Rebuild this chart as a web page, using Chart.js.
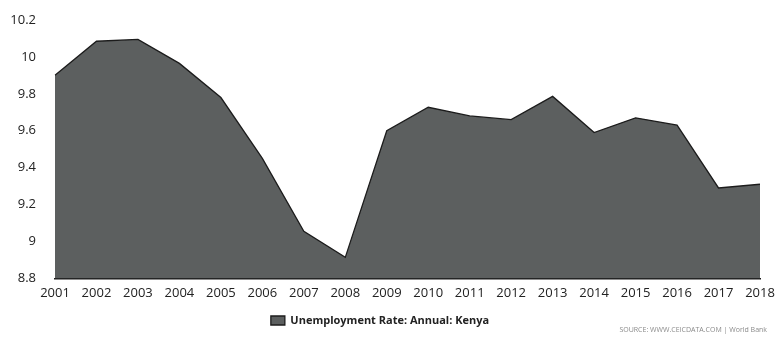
<!DOCTYPE html>
<html>
<head>
<meta charset="utf-8">
<script src="https://cdn.jsdelivr.net/npm/chart.js@4"></script>
<style>
  html, body { margin: 0; padding: 0; background: #fff; }
  #wrap { width: 776px; height: 338px; position: relative; }
</style>
</head>
<body>
<div id="wrap"><canvas id="areaChart"></canvas></div>
<script>
const years = ['2001', '2002', '2003', '2004', '2005', '2006', '2007', '2008', '2009',
    '2010', '2011', '2012', '2013', '2014', '2015', '2016', '2017', '2018'];
const unemployment = [9.9, 10.085, 10.095, 9.965, 9.78, 9.45, 9.055, 8.914, 9.6,
    9.727, 9.68, 9.66, 9.786, 9.59, 9.67, 9.63, 9.29, 9.31];
const yTicks = [8.8, 9, 9.2, 9.4, 9.6, 9.8, 10, 10.2];
const seriesName = 'Unemployment Rate: Annual: Kenya';
const sourceText = 'SOURCE: WWW.CEICDATA.COM | World Bank';

document.addEventListener('DOMContentLoaded', function () {
    const sourceLabel = {
        id: 'sourceLabel',
        afterDraw(chart) {
            const ctx = chart.ctx;
            ctx.save();
            ctx.font = '7px "Open Sans"';
            ctx.fillStyle = '#8a8a8a';
            ctx.textAlign = 'right';
            ctx.textBaseline = 'middle';
            ctx.fillText(sourceText, 767, 330);
            ctx.restore();
        }
    };

    const ctx = document.getElementById('areaChart').getContext('2d');
    new Chart(ctx, {
        type: 'line',
        data: {
            labels: years,
            datasets: [{
                label: seriesName,
                data: unemployment,
                fill: 'start',
                backgroundColor: '#5c5f5f',
                borderColor: '#1c1c1c',
                borderWidth: 1.3,
                pointRadius: 0,
                tension: 0
            }]
        },
        options: {
            responsive: true,
            maintainAspectRatio: false,
            animation: false,
            layout: { padding: { left: 0, right: 16, top: 20, bottom: 2 } },
            scales: {
                x: {
                    offset: false,
                    // grid hidden, tick length kept only as a gap for the labels
                    grid: { display: false, drawTicks: true, tickLength: 7 },
                    border: { display: true, color: '#1c1c1c', width: 1.5 },
                    afterFit(scale) { scale.height += 4; },
                    ticks: {
                        color: '#222',
                        font: { family: 'Open Sans', size: 13 },
                        padding: 0,
                        maxRotation: 0,
                        autoSkip: false
                    }
                },
                y: {
                    min: 8.8,
                    max: 10.2,
                    grid: { display: false, drawTicks: true, tickLength: 19 },
                    border: { display: false },
                    afterFit(scale) { scale.width = 55; },
                    afterBuildTicks(scale) {
                        scale.ticks = yTicks.map(v => ({ value: v }));
                    },
                    ticks: {
                        color: '#222',
                        font: { family: 'Open Sans', size: 13 },
                        padding: 0,
                        callback: v => String(Math.round(v * 10) / 10)
                    }
                }
            },
            plugins: {
                legend: {
                    position: 'bottom',
                    labels: {
                        color: '#222',
                        font: { family: 'Open Sans', size: 11, weight: 'bold' },
                        boxWidth: 14,
                        boxHeight: 9,
                        padding: 10
                    }
                },
                tooltip: { enabled: false }
            }
        },
        plugins: [sourceLabel]
    });
});
</script>
</body>
</html>
